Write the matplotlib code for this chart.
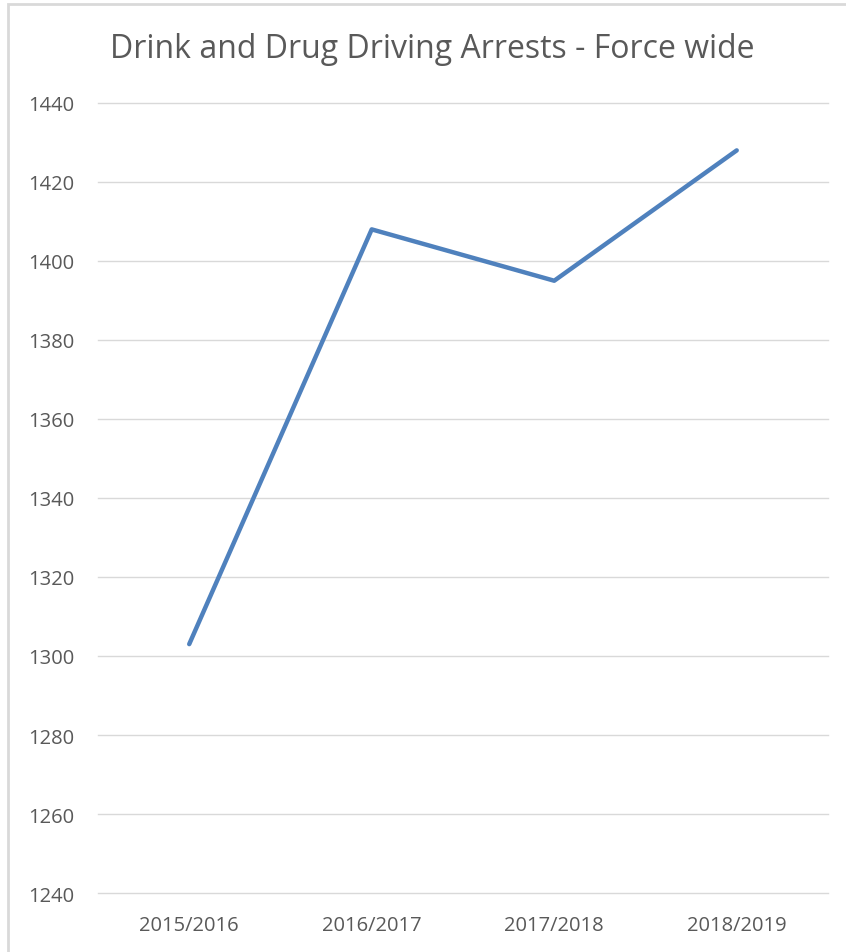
import matplotlib
matplotlib.use("Agg")
import matplotlib.pyplot as plt
from matplotlib.patches import Rectangle

# データ
years = ["2015/2016", "2016/2017", "2017/2018", "2018/2019"]
arrests = [1303, 1408, 1395, 1428]
y_ticks = [1240, 1260, 1280, 1300, 1320, 1340, 1360, 1380, 1400, 1420, 1440]

plt.rcParams["font.family"] = ["Open Sans", "DejaVu Sans"]

fig = plt.figure(figsize=(8.46, 9.53), dpi=100)
ax = fig.add_axes([0.1158, 0.0619, 0.8629, 0.829])

# 外枠
fig.patches.append(Rectangle((8 / 846, -0.1), 1.2, 1 - 5 / 953 + 0.1,
                             transform=fig.transFigure, fill=False,
                             edgecolor="#d9d9d9", linewidth=2))

x = list(range(len(years)))
ax.plot(x, arrests, color="#4f81bd", linewidth=3.2, solid_capstyle="round")

ax.set_xlim(-0.5, len(years) - 0.5)
ax.set_ylim(1240, 1440)
ax.set_yticks(y_ticks)
ax.set_xticks(x)
ax.set_xticklabels(years)
ax.grid(axis="y", color="#d9d9d9", linewidth=1)
for gl in ax.get_ygridlines():
    gl.set_clip_on(False)
ax.set_axisbelow(True)
for s in ax.spines.values():
    s.set_visible(False)
ax.tick_params(length=0, labelsize=14.5, labelcolor="#595959")
ax.tick_params(axis="y", pad=17)
ax.tick_params(axis="x", pad=16)

fig.text(0.511, 0.948, "Drink and Drug Driving Arrests - Force wide",
         ha="center", va="center", fontsize=23, color="#595959")

fig.savefig("out.png", dpi=100)
plt.close(fig)
